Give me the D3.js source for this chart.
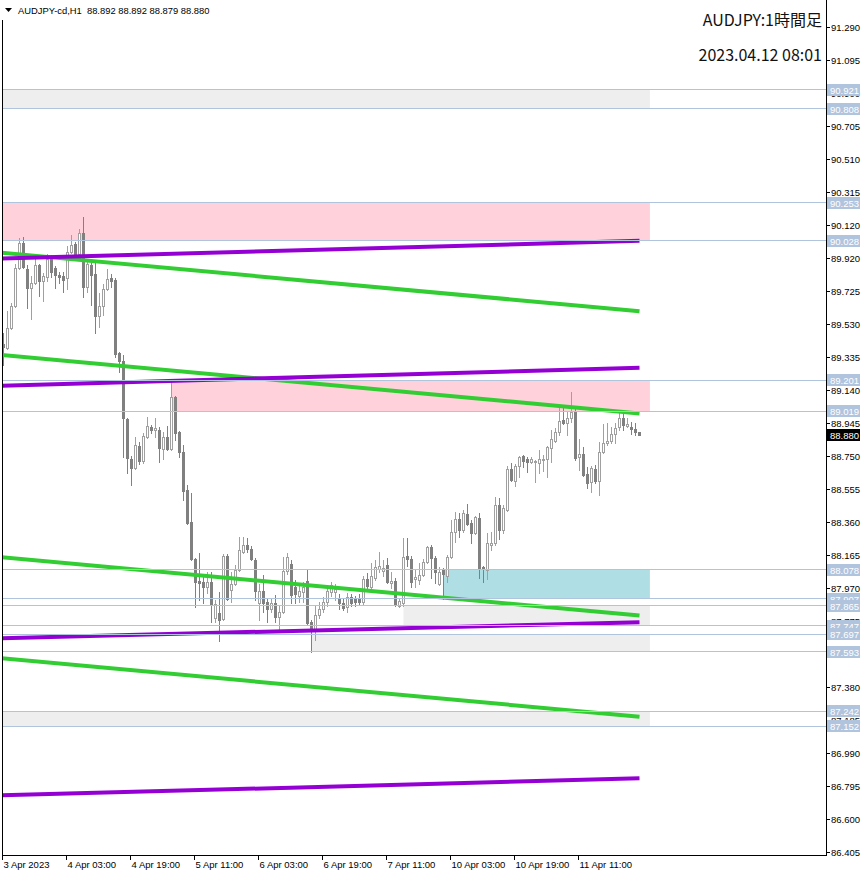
<!DOCTYPE html>
<html><head><meta charset="utf-8">
<script src="https://cdn.jsdelivr.net/npm/d3@7"></script>
<style>body{margin:0;background:#fff;} svg{display:block;}</style>
</head><body><svg id="c" width="866" height="876"></svg>
<script>
const symbolTitle = "AUDJPY:1時間足";
const dateTitle = "2023.04.12 08:01";
const headerText = "AUDJPY-cd,H1  88.892 88.892 88.879 88.880";
const lastPrice = 88.880;

const opens = [89.416,89.393,89.512,89.642,89.868,90.015,89.862,89.749,89.778,89.885,89.790,89.814,89.927,89.868,89.826,89.820,89.808,89.962,90.009,89.950,
90.074,89.755,89.885,89.832,89.583,89.642,89.743,89.808,89.796,89.363,89.316,88.972,88.735,88.682,88.812,88.723,88.865,88.925,88.907,88.907,
88.794,88.865,88.794,89.102,88.895,88.777,88.551,88.362,88.142,88.012,88.006,87.977,88.006,87.793,87.822,87.787,88.160,87.959,87.994,88.077,
88.184,88.225,88.202,88.136,87.882,87.953,87.887,87.846,87.882,87.799,87.828,88.071,88.113,87.977,87.923,87.947,88.012,87.769,87.721,87.810,
87.846,87.887,87.947,87.947,87.911,87.882,87.858,87.917,87.905,87.911,87.887,88.024,87.977,88.030,88.083,88.071,88.107,88.000,88.012,87.864,
87.882,88.160,88.142,88.024,88.018,88.047,88.124,88.213,88.148,87.994,88.077,88.041,88.154,88.302,88.379,88.314,88.409,88.356,88.296,88.385,
88.095,88.077,88.225,88.237,88.462,88.314,88.433,88.676,88.605,88.694,88.753,88.735,88.717,88.715,88.711,88.729,88.735,88.800,88.842,88.895,
88.966,88.948,88.978,89.014,88.747,88.765,88.646,88.599,88.676,88.605,88.777,88.830,88.842,88.883,88.925,88.978,88.930,88.925,88.913,88.892];
const highs = [89.482,89.612,89.660,89.891,90.045,90.051,89.885,89.820,89.927,89.891,89.838,89.950,89.944,89.879,89.844,89.844,89.998,90.063,90.021,90.098,
90.169,89.909,89.909,89.903,89.719,89.772,89.862,89.832,89.808,89.369,89.351,88.978,88.753,88.865,88.836,88.889,88.984,88.936,88.978,88.925,
88.895,88.930,89.201,89.108,88.901,88.818,88.581,88.534,88.148,88.178,88.047,88.065,88.065,87.899,87.947,88.172,88.172,88.065,88.106,88.273,
88.273,88.267,88.219,88.148,87.994,88.047,87.911,87.911,87.929,87.864,88.154,88.178,88.136,88.018,87.994,88.006,88.077,87.781,87.870,87.887,
87.917,87.977,88.006,87.994,87.935,87.911,87.941,87.935,87.923,87.935,88.041,88.059,88.118,88.136,88.184,88.136,88.148,88.065,88.030,87.911,
88.267,88.267,88.160,88.077,88.118,88.142,88.219,88.225,88.160,88.095,88.089,88.166,88.374,88.421,88.415,88.433,88.468,88.374,88.397,88.415,
88.101,88.296,88.302,88.510,88.504,88.462,88.694,88.711,88.706,88.753,88.759,88.747,88.747,88.729,88.789,88.759,88.812,88.907,88.919,89.049,
89.037,89.014,89.132,89.043,88.854,88.806,88.688,88.694,88.700,88.836,88.942,88.948,88.925,88.948,89.008,89.008,88.978,88.954,88.948,88.892];
const lows = [89.292,89.387,89.506,89.636,89.862,89.868,89.630,89.565,89.772,89.701,89.672,89.790,89.814,89.749,89.778,89.725,89.743,89.956,89.938,89.944,
89.696,89.725,89.648,89.482,89.518,89.589,89.737,89.755,89.340,89.251,88.747,88.652,88.581,88.676,88.706,88.711,88.860,88.889,88.865,88.717,
88.735,88.789,88.789,88.848,88.747,88.492,88.350,88.136,87.858,87.899,87.882,87.941,87.769,87.769,87.656,87.781,87.899,87.887,87.988,88.071,
88.178,88.184,88.136,87.899,87.781,87.828,87.769,87.828,87.769,87.727,87.822,88.053,87.882,87.882,87.887,87.887,87.757,87.593,87.662,87.793,
87.828,87.864,87.923,87.899,87.846,87.840,87.828,87.864,87.864,87.870,87.876,87.959,87.959,88.018,88.065,88.041,88.000,87.970,87.864,87.858,
87.865,88.101,87.977,87.977,87.994,88.041,88.118,88.030,88.000,87.988,87.907,88.006,88.148,88.243,88.273,88.302,88.344,88.237,88.290,88.030,
88.006,88.024,88.196,88.225,88.261,88.296,88.427,88.605,88.575,88.628,88.688,88.658,88.711,88.599,88.652,88.664,88.628,88.717,88.836,88.877,
88.942,88.877,88.954,88.729,88.670,88.634,88.563,88.540,88.593,88.522,88.771,88.818,88.830,88.830,88.907,88.907,88.925,88.883,88.877,88.879];
const closes = [89.399,89.512,89.642,89.868,90.015,89.873,89.749,89.778,89.885,89.790,89.820,89.921,89.844,89.826,89.814,89.796,89.962,90.003,89.950,90.074,
89.755,89.891,89.826,89.583,89.642,89.743,89.802,89.790,89.357,89.316,88.978,88.741,88.682,88.818,88.723,88.871,88.930,88.907,88.919,88.800,
88.865,88.794,89.102,88.889,88.777,88.545,88.356,88.142,88.006,88.000,87.977,88.006,87.870,87.876,87.781,88.160,87.905,87.994,88.077,88.196,
88.225,88.202,88.142,87.953,87.953,87.882,87.846,87.882,87.799,87.828,88.071,88.154,87.929,87.935,87.953,87.977,87.763,87.721,87.810,87.846,
87.887,87.953,87.988,87.965,87.882,87.852,87.917,87.882,87.887,87.887,88.024,87.982,88.041,88.095,88.101,88.089,88.006,88.012,87.870,87.893,
88.154,88.142,88.006,88.036,88.047,88.124,88.213,88.148,88.065,88.065,88.053,88.154,88.302,88.379,88.314,88.415,88.350,88.296,88.391,88.089,
88.083,88.237,88.237,88.462,88.314,88.445,88.676,88.611,88.694,88.747,88.723,88.717,88.735,88.723,88.735,88.735,88.806,88.854,88.895,88.960,
88.948,88.978,89.014,88.741,88.765,88.640,88.593,88.682,88.605,88.777,88.830,88.842,88.883,88.919,88.978,88.936,88.942,88.913,88.892,88.880];

const timeLabels = ["3 Apr 2023","4 Apr 03:00","4 Apr 19:00","5 Apr 11:00","6 Apr 03:00","6 Apr 19:00","7 Apr 11:00","10 Apr 03:00","10 Apr 19:00","11 Apr 11:00"];
const timeLabelBars = [0,16,32,48,64,80,96,112,128,144];
const priceTicks = ["91.290","91.095","90.900","90.705","90.510","90.315","90.120","89.920","89.725","89.530","89.335","89.140","88.945","88.750","88.555","88.360","88.165","87.970","87.775","87.575","87.380","87.185","86.990","86.795","86.600","86.405"];
const levels = [90.921,90.808,90.253,90.028,89.201,89.019,88.078,87.907,87.865,87.747,87.697,87.593,87.242,87.152];

// zones
const zoneStart = [-2,-2,42,110,100,77,-2];
const zoneEnd = [161.6,161.6,161.6,161.6,161.6,161.6,161.6];
const zoneTop = [90.921,90.253,89.201,88.078,87.865,87.697,87.242];
const zoneBottom = [90.808,90.028,89.019,87.907,87.747,87.593,87.152];
const zoneKind = ["gray","pink","pink","blue","gray","gray","gray"];

// trend lines: [bar0, price0, bar1, price1]
const greenLines = [[-1,89.957,159,89.610],[-1,89.352,159,89.005],[-1,88.155,159,87.808],[-1,87.556,159,87.209]];
const purpleLines = [[-1,89.922,159,90.027],[-1,89.169,159,89.275],[-1,87.673,159,87.769],[-1,86.743,159,86.844]];

const zoneColors = {gray:"#eeeeee", pink:"#ffd1da", blue:"#b0dee5"};
const FONT = "'Liberation Sans', Arial, sans-serif";

const svg = d3.select('#c');
const plotL = 2, plotR = 826, plotT = 0, plotB = 855;

const x = d3.scaleLinear().domain([0, 159]).range([3.5, 639.5]);
const y = d3.scaleLinear().domain([86.405, 91.290]).range([852.5, 27.5]);

svg.append('defs').append('clipPath').attr('id','clip')
  .append('rect').attr('x', plotL+0.5).attr('y', plotT).attr('width', plotR-plotL-0.5).attr('height', plotB-plotT);

const plot = svg.append('g').attr('clip-path','url(#clip)');

plot.append('g').selectAll('rect').data(zoneTop).join('rect')
  .attr('x', (d,i)=>x(zoneStart[i]))
  .attr('y', (d,i)=>y(zoneTop[i]))
  .attr('width', (d,i)=>x(zoneEnd[i])-x(zoneStart[i]))
  .attr('height', (d,i)=>y(zoneBottom[i])-y(zoneTop[i]))
  .attr('fill', (d,i)=>zoneColors[zoneKind[i]]);

const snap = v => Math.round(v - 0.5) + 0.5;
svg.append('g').selectAll('line').data(levels).join('line')
  .attr('x1', plotL).attr('x2', plotR+2)
  .attr('y1', d=>snap(y(d))).attr('y2', d=>snap(y(d)))
  .attr('stroke', '#b0c4de').attr('stroke-width', 1)
  .attr('shape-rendering','crispEdges');

const idx = d3.range(opens.length);
const cg = plot.append('g').attr('shape-rendering','crispEdges');
const BULL = "#a0a0a0", BEAR = "#808080";
cg.selectAll('line').data(idx).join('line')
  .attr('x1', i=>x(i)).attr('x2', i=>x(i))
  .attr('y1', i=>Math.round(y(Math.max(highs[i],opens[i],closes[i]))))
  .attr('y2', i=>Math.round(y(Math.min(lows[i],opens[i],closes[i])))+1)
  .attr('stroke', i=>closes[i]>=opens[i]?BULL:BEAR).attr('stroke-width',1);
cg.selectAll('rect.bear').data(idx.filter(i=>closes[i]<opens[i])).join('rect').attr('class','bear')
  .attr('x', i=>x(i)-1.5)
  .attr('y', i=>Math.round(y(opens[i])))
  .attr('width', 3)
  .attr('height', i=>Math.max(1, Math.round(y(closes[i]))-Math.round(y(opens[i]))+1))
  .attr('fill', BEAR);
cg.selectAll('rect.bull').data(idx.filter(i=>closes[i]>=opens[i])).join('rect').attr('class','bull')
  .attr('x', i=>x(i)-1)
  .attr('y', i=>Math.round(y(closes[i]))+0.5)
  .attr('width', 2)
  .attr('height', i=>Math.max(1, Math.round(y(opens[i]))-Math.round(y(closes[i]))))
  .attr('fill', '#ffffff').attr('stroke', BULL).attr('stroke-width',1);

const tl = plot.append('g');
tl.selectAll('line.g').data(greenLines).join('line').attr('class','g')
  .attr('x1', d=>x(d[0])).attr('y1', d=>y(d[1])).attr('x2', d=>x(d[2])).attr('y2', d=>y(d[3]))
  .attr('stroke', '#32cd32').attr('stroke-width', 4);
tl.selectAll('line.p').data(purpleLines).join('line').attr('class','p')
  .attr('x1', d=>x(d[0])).attr('y1', d=>y(d[1])).attr('x2', d=>x(d[2])).attr('y2', d=>y(d[3]))
  .attr('stroke', '#9400d3').attr('stroke-width', 4);

const frame = svg.append('g').attr('stroke','#000').attr('stroke-width',1).attr('shape-rendering','crispEdges');
frame.append('line').attr('x1', plotL+0.5).attr('x2', plotL+0.5).attr('y1', 20).attr('y2', plotB+0.5);
frame.append('line').attr('x1', plotR+0.5).attr('x2', plotR+0.5).attr('y1', 0).attr('y2', plotB+0.5);
frame.append('line').attr('x1', plotL).attr('x2', plotR+1).attr('y1', plotB+0.5).attr('y2', plotB+0.5);

const pa = svg.append('g');
priceTicks.forEach(t=>{
  const yy = snap(y(+t));
  pa.append('line').attr('x1', plotR).attr('x2', plotR+4).attr('y1', yy).attr('y2', yy)
    .attr('stroke','#000').attr('shape-rendering','crispEdges');
  pa.append('text').attr('x', plotR+5).attr('y', yy).attr('dy','0.35em')
    .attr('font-family', FONT).attr('font-size', 9.5).attr('fill','#000').text(t);
});
levels.forEach(v=>{
  const yy = Math.round(y(v));
  pa.append('rect').attr('x', plotR+1).attr('y', yy-6).attr('width', 33).attr('height', 12).attr('fill','#b0c4de');
  pa.append('text').attr('x', plotR+4).attr('y', yy).attr('dy','0.37em')
    .attr('font-family', FONT).attr('font-size', 9.5).attr('fill','#ffffff').text(v.toFixed(3));
});
{
  const yy = Math.round(y(lastPrice));
  pa.append('rect').attr('x', plotR+1).attr('y', yy-6).attr('width', 33).attr('height', 12).attr('fill','#000');
  pa.append('text').attr('x', plotR+4).attr('y', yy).attr('dy','0.37em')
    .attr('font-family', FONT).attr('font-size', 9.5).attr('fill','#ffffff').text(lastPrice.toFixed(3));
}

const ta = svg.append('g');
timeLabels.forEach((t,k)=>{
  const xx = x(timeLabelBars[k]) - 1;
  ta.append('line').attr('x1', xx).attr('x2', xx).attr('y1', plotB).attr('y2', plotB+5)
    .attr('stroke','#000').attr('shape-rendering','crispEdges');
  ta.append('text').attr('x', xx+1).attr('y', 868)
    .attr('font-family', FONT).attr('font-size', 9.5).attr('fill','#000').text(t);
});

svg.append('path').attr('d','M5,8 L12,8 L8.5,12 Z').attr('fill','#000');
svg.append('text').attr('x', 18).attr('y', 14).attr('font-family', FONT).attr('font-size', 9.4)
  .attr('fill','#000').style('white-space','pre').text(headerText);

svg.append('text').attr('x', 822).attr('y', 26).attr('text-anchor','end')
  .attr('font-family', "'Noto Sans CJK JP', 'Noto Sans', sans-serif").attr('font-size', 16).attr('fill','#111').text(symbolTitle);
svg.append('text').attr('x', 822).attr('y', 61).attr('text-anchor','end')
  .attr('font-family', "'Noto Sans CJK JP', 'Noto Sans', sans-serif").attr('font-size', 16).attr('fill','#111').text(dateTitle);
</script></body></html>
